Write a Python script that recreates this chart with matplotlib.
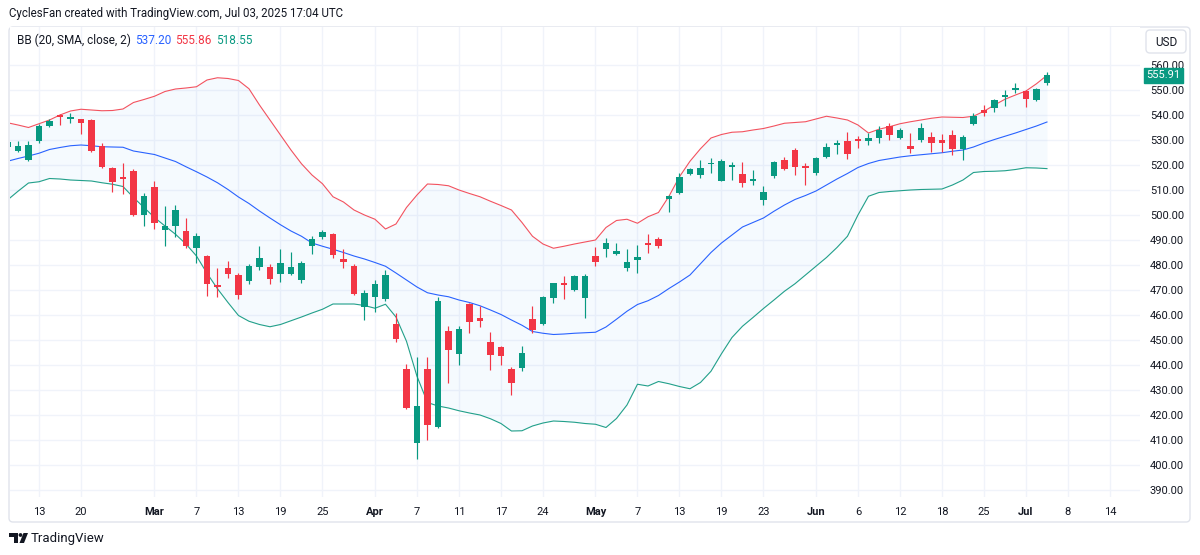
import numpy as np
import pandas as pd
import matplotlib.pyplot as plt
from matplotlib.patches import FancyBboxPatch, Polygon, Circle, Rectangle

plt.rcParams['font.family'] = ['Roboto', 'DejaVu Sans']

# trading days shown (Feb 10 .. Jul 3 2025) plus a few future slots on the time axis
holidays = ['2025-02-17', '2025-04-18', '2025-05-26', '2025-06-19', '2025-07-04']
days = pd.bdate_range('2025-02-10', '2025-07-18')
days = days[~days.isin(pd.to_datetime(holidays))]
n_bars = 100

opens = [527.3, 525.6, 522.0, 529.6, 535.6, 539.7, 538.4, 538.4, 538.0, 527.6,
         518.9, 515.3, 517.7, 500.0, 511.2, 494.0, 495.7, 493.6, 486.7, 483.5,
         472.1, 478.8, 476.1, 473.5, 479.3, 479.2, 476.5, 476.5, 473.9, 487.5,
         491.1, 492.3, 482.4, 479.7, 463.3, 467.1, 466.3, 456.4, 438.3, 408.7,
         438.3, 415.3, 453.6, 444.4, 464.3, 458.7, 449.3, 447.3, 438.3, 438.7,
         458.3, 456.3, 466.7, 472.9, 470.0, 466.7, 483.6, 486.3, 484.3, 478.9,
         481.9, 488.4, 490.3, 506.5, 508.9, 516.4, 516.0, 520.3, 513.7, 519.1,
         516.4, 513.6, 506.0, 515.6, 521.9, 526.0, 519.3, 516.9, 523.3, 528.0,
         529.7, 530.0, 529.6, 530.7, 535.6, 530.7, 527.6, 530.0, 531.1, 530.0,
         532.0, 526.3, 536.3, 542.0, 542.7, 547.1, 550.0, 549.6, 546.0, 552.7]
highs = [529.8, 529.7, 529.5, 536.3, 538.4, 540.3, 541.0, 538.6, 538.4, 528.7,
         519.2, 520.8, 518.3, 508.8, 513.5, 503.6, 504.0, 498.7, 493.0, 484.0,
         478.7, 481.6, 476.8, 480.3, 487.5, 480.3, 486.4, 485.3, 481.5, 491.6,
         494.0, 493.0, 486.4, 480.3, 470.0, 474.0, 478.0, 460.7, 440.4, 443.3,
         443.3, 467.3, 455.6, 455.6, 465.0, 463.5, 453.3, 447.6, 439.1, 447.6,
         463.6, 467.8, 473.0, 475.5, 476.0, 476.5, 487.3, 490.7, 488.7, 486.5,
         488.0, 492.4, 491.3, 508.0, 517.0, 518.7, 522.0, 522.8, 522.3, 521.3,
         521.3, 517.9, 511.6, 521.8, 523.1, 526.7, 520.7, 523.3, 528.7, 530.0,
         533.3, 531.6, 532.7, 535.6, 536.8, 534.7, 532.8, 536.7, 533.3, 532.4,
         534.0, 532.0, 541.0, 544.0, 546.4, 550.0, 552.9, 550.0, 550.8, 557.3]
lows = [526.5, 525.3, 521.8, 529.0, 535.4, 536.0, 536.8, 532.3, 525.4, 519.0,
        509.3, 508.3, 499.6, 495.7, 494.4, 487.7, 491.3, 487.0, 481.0, 467.5,
        467.1, 474.8, 466.3, 472.3, 478.0, 472.3, 473.2, 476.1, 473.0, 484.4,
        490.5, 482.7, 479.0, 468.0, 458.0, 461.3, 465.8, 449.3, 422.5, 402.3,
        410.0, 415.0, 432.7, 440.0, 452.7, 455.3, 438.0, 440.0, 428.0, 437.5,
        452.9, 456.0, 465.0, 466.3, 469.6, 459.0, 479.7, 483.3, 484.0, 477.5,
        476.7, 484.7, 486.8, 501.3, 508.5, 515.9, 515.0, 516.7, 513.5, 514.0,
        511.1, 512.0, 504.0, 514.8, 518.0, 516.0, 512.0, 516.0, 522.9, 524.3,
        522.4, 526.7, 528.0, 529.0, 530.0, 530.3, 525.0, 529.3, 525.3, 525.3,
        524.0, 522.0, 536.0, 539.6, 541.3, 543.6, 548.7, 543.3, 545.8, 552.0]
closes = [529.3, 527.7, 528.0, 535.7, 537.6, 539.3, 539.1, 536.8, 525.7, 519.3,
          513.1, 514.3, 499.9, 507.7, 496.9, 495.6, 502.0, 487.7, 491.7, 472.4,
          471.2, 476.5, 468.0, 479.6, 482.7, 474.3, 481.0, 479.2, 480.8, 490.5,
          493.3, 484.0, 481.3, 468.4, 468.8, 472.4, 475.9, 450.4, 422.7, 423.6,
          415.9, 465.7, 446.0, 454.4, 457.2, 457.6, 444.0, 443.7, 432.7, 444.7,
          454.0, 467.3, 472.7, 472.0, 475.6, 475.6, 481.3, 488.7, 485.6, 481.1,
          483.1, 488.0, 487.7, 507.6, 515.3, 518.3, 518.7, 520.9, 521.7, 520.0,
          512.7, 514.0, 509.1, 521.2, 518.5, 519.3, 518.9, 522.9, 527.1, 528.9,
          524.4, 529.6, 530.7, 534.0, 531.9, 534.0, 526.4, 534.7, 528.7, 528.7,
          526.3, 531.3, 539.6, 540.7, 546.0, 547.9, 550.7, 546.3, 550.5, 555.91]

bb_upper = [536.9, 536.0, 535.0, 536.5, 538.0, 540.0, 541.6, 542.3, 542.0, 541.7,
            541.8, 542.4, 545.0, 546.2, 547.5, 549.4, 550.4, 550.8, 551.3, 554.0,
            554.9, 554.6, 553.8, 550.5, 544.0, 538.0, 532.0, 526.0, 520.5, 516.0,
            512.5, 507.3, 505.2, 502.0, 500.0, 498.3, 494.4, 496.4, 503.0, 508.0,
            512.4, 512.2, 511.7, 510.0, 508.6, 507.3, 505.5, 503.8, 502.0, 497.0,
            491.5, 488.4, 486.7, 487.5, 488.4, 489.2, 490.0, 495.0, 497.8, 498.3,
            496.7, 499.3, 501.0, 507.5, 515.3, 521.5, 526.5, 530.8, 532.2, 533.1,
            533.3, 534.0, 534.6, 535.6, 536.7, 537.0, 537.3, 538.4, 539.5, 538.8,
            538.0, 536.0, 532.8, 534.3, 535.3, 536.5, 537.3, 538.0, 538.7, 539.2,
            539.1, 539.0, 539.5, 541.5, 544.0, 546.3, 548.0, 549.6, 552.5, 555.86]
bb_basis = [521.5, 522.6, 523.6, 524.7, 526.2, 527.0, 527.7, 528.0, 527.7, 527.3,
            527.2, 527.1, 525.6, 524.9, 524.2, 522.8, 521.4, 519.3, 517.3, 515.2,
            512.9, 510.2, 507.2, 504.6, 501.6, 498.8, 496.1, 493.6, 491.5, 488.8,
            487.5, 486.3, 485.0, 483.6, 482.4, 481.0, 479.5, 476.8, 474.0, 471.2,
            468.9, 468.0, 467.3, 466.0, 465.0, 463.7, 462.0, 460.2, 458.0, 455.9,
            453.4, 452.7, 452.2, 452.4, 452.7, 452.9, 453.1, 455.2, 458.3, 461.5,
            464.2, 465.7, 467.8, 470.6, 473.2, 476.0, 480.5, 485.0, 488.8, 492.0,
            495.2, 497.0, 498.8, 501.5, 504.0, 506.2, 507.8, 509.6, 512.0, 514.4,
            516.6, 519.0, 520.6, 521.8, 522.5, 523.2, 523.7, 524.1, 524.5, 524.9,
            525.5, 526.0, 527.2, 528.8, 530.2, 531.5, 532.8, 534.2, 535.6, 537.20]
bb_lower = [506.0, 509.5, 512.8, 513.3, 514.6, 514.4, 514.0, 513.8, 513.6, 512.9,
            512.3, 511.4, 507.0, 503.0, 499.0, 495.6, 492.3, 488.4, 483.6, 476.7,
            470.5, 465.0, 459.8, 457.5, 456.2, 455.3, 456.2, 457.7, 459.2, 460.8,
            462.3, 464.4, 464.4, 464.4, 463.8, 462.7, 464.3, 459.2, 449.5, 435.5,
            425.0, 423.6, 422.8, 421.7, 420.8, 420.0, 418.5, 416.6, 413.6, 413.7,
            415.6, 416.8, 417.6, 417.4, 417.1, 416.6, 416.3, 415.0, 418.6, 424.0,
            432.3, 431.6, 433.4, 432.5, 431.4, 430.5, 433.0, 437.5, 444.5, 451.0,
            455.5, 459.0, 462.6, 466.0, 469.5, 472.5, 476.0, 479.5, 483.0, 487.0,
            491.5, 500.0, 507.5, 509.0, 509.4, 509.7, 510.0, 510.2, 510.3, 510.4,
            512.0, 514.0, 517.0, 517.4, 517.5, 517.7, 518.2, 518.9, 518.8, 518.55]

tick_dates = ['2025-02-13', '2025-02-20', '2025-03-03', '2025-03-07', '2025-03-13',
              '2025-03-19', '2025-03-25', '2025-04-01', '2025-04-07', '2025-04-11',
              '2025-04-17', '2025-04-24', '2025-05-01', '2025-05-07', '2025-05-13',
              '2025-05-19', '2025-05-23', '2025-06-02', '2025-06-06', '2025-06-12',
              '2025-06-18', '2025-06-25', '2025-07-01', '2025-07-08', '2025-07-14']
tick_labels = ['13', '20', 'Mar', '7', '13', '19', '25', 'Apr', '7', '11', '17', '24',
               'May', '7', '13', '19', '23', 'Jun', '6', '12', '18', '25', 'Jul', '8', '14']
price_ticks = [390, 400, 410, 420, 430, 440, 450, 460, 470, 480, 490,
               500, 510, 520, 530, 540, 550, 560]

UP = '#089981'
DOWN = '#f23645'
TXT = '#131722'
GRID = '#f0f3fa'

W, H = 1200, 555
fig = plt.figure(figsize=(W / 100, H / 100), dpi=100)
ax = fig.add_axes([10 / W, 1 - 497 / H, 1130 / W, 470 / H])

idx = np.arange(n_bars)
o = np.array(opens); c = np.array(closes)
hi = np.array(highs); lo = np.array(lows)
up = c >= o
cols = np.where(up, UP, DOWN)

# bands
ax.fill_between(idx, bb_lower, bb_upper, color='#2196f3', alpha=0.045, lw=0, zorder=1)
ax.plot(idx, bb_upper, color='#f2525f', lw=0.8, zorder=2)
ax.plot(idx, bb_basis, color='#2962ff', lw=0.8, zorder=2)
ax.plot(idx, bb_lower, color='#22a08a', lw=0.8, zorder=2)

# candles
ax.vlines(idx, lo, hi, colors=cols, lw=0.85, zorder=3)
body_lo = np.minimum(o, c)
body_h = np.maximum(np.abs(c - o), 0.7)
ax.bar(idx, body_h, bottom=body_lo, width=0.66, color=cols, lw=0, zorder=4)

# axes / grid
tick_idx = [days.get_loc(pd.Timestamp(d)) for d in tick_dates]
ax.set_xlim(0.24, 107.86)
ax.set_ylim(387.2, 575.2)
ax.set_xticks(tick_idx)
ax.set_xticklabels(tick_labels)
for lab, txt in zip(ax.get_xticklabels(), tick_labels):
    if not txt.isdigit():
        lab.set_fontweight('bold')
ax.set_yticks(price_ticks)
ax.set_yticklabels([f'{p:.2f}' for p in price_ticks])
ax.yaxis.tick_right()
ax.tick_params(axis='both', length=0, labelsize=8, colors=TXT)
ax.tick_params(axis='x', pad=7)
ax.tick_params(axis='y', pad=7)
ax.grid(True, color=GRID, lw=1)
ax.set_axisbelow(True)
for s in ax.spines.values():
    s.set_visible(False)

# legend text
ax.text(0.006, 0.972, 'BB (20, SMA, close, 2)', transform=ax.transAxes,
        fontsize=8.5, color=TXT, va='center')
ax.text(0.111, 0.972, f'{bb_basis[-1]:.2f}', transform=ax.transAxes,
        fontsize=8.5, color='#2962ff', va='center')
ax.text(0.146, 0.972, f'{bb_upper[-1]:.2f}', transform=ax.transAxes,
        fontsize=8.5, color=DOWN, va='center')
ax.text(0.182, 0.972, f'{bb_lower[-1]:.2f}', transform=ax.transAxes,
        fontsize=8.5, color=UP, va='center')

# last price tag
ax.text(1.0055, closes[-1], f'{closes[-1]:.2f}', transform=ax.get_yaxis_transform(),
        fontsize=8, color='white', va='center', ha='left', clip_on=False,
        bbox=dict(boxstyle='square,pad=0.22', fc=UP, ec=UP))

# overlay in pixel coords for frame, header and logo
ov = fig.add_axes([0, 0, 1, 1], zorder=-1)
ov.set_xlim(0, W); ov.set_ylim(H, 0); ov.axis('off')
ov.add_patch(FancyBboxPatch((9, 27), 1181, 495, boxstyle='round,pad=0,rounding_size=4',
                            fc='none', ec='#e0e3eb', lw=1))
ov.add_patch(FancyBboxPatch((1146, 30), 40, 23, boxstyle='round,pad=0,rounding_size=4',
                            fc='white', ec='#e0e3eb', lw=1))
ov.text(1166, 42, 'USD', fontsize=8.5, color=TXT, ha='center', va='center')
ov.text(9, 13, 'CyclesFan created with TradingView.com, Jul 03, 2025 17:04 UTC',
        fontsize=8.3, color=TXT, va='center')

# TradingView logo
ov.add_patch(Rectangle((9, 533), 9, 4, color=TXT, lw=0))
ov.add_patch(Rectangle((14, 533), 4, 10, color=TXT, lw=0))
ov.add_patch(Circle((20.5, 535), 1.9, color=TXT, lw=0))
ov.add_patch(Polygon([(23.5, 533), (28, 533), (24, 543), (19.5, 543)], closed=True,
                     color=TXT, lw=0))
ov.text(31, 538.5, 'TradingView', fontsize=9.5, color=TXT, va='center')

fig.savefig('out.png', dpi=100, facecolor='white')
